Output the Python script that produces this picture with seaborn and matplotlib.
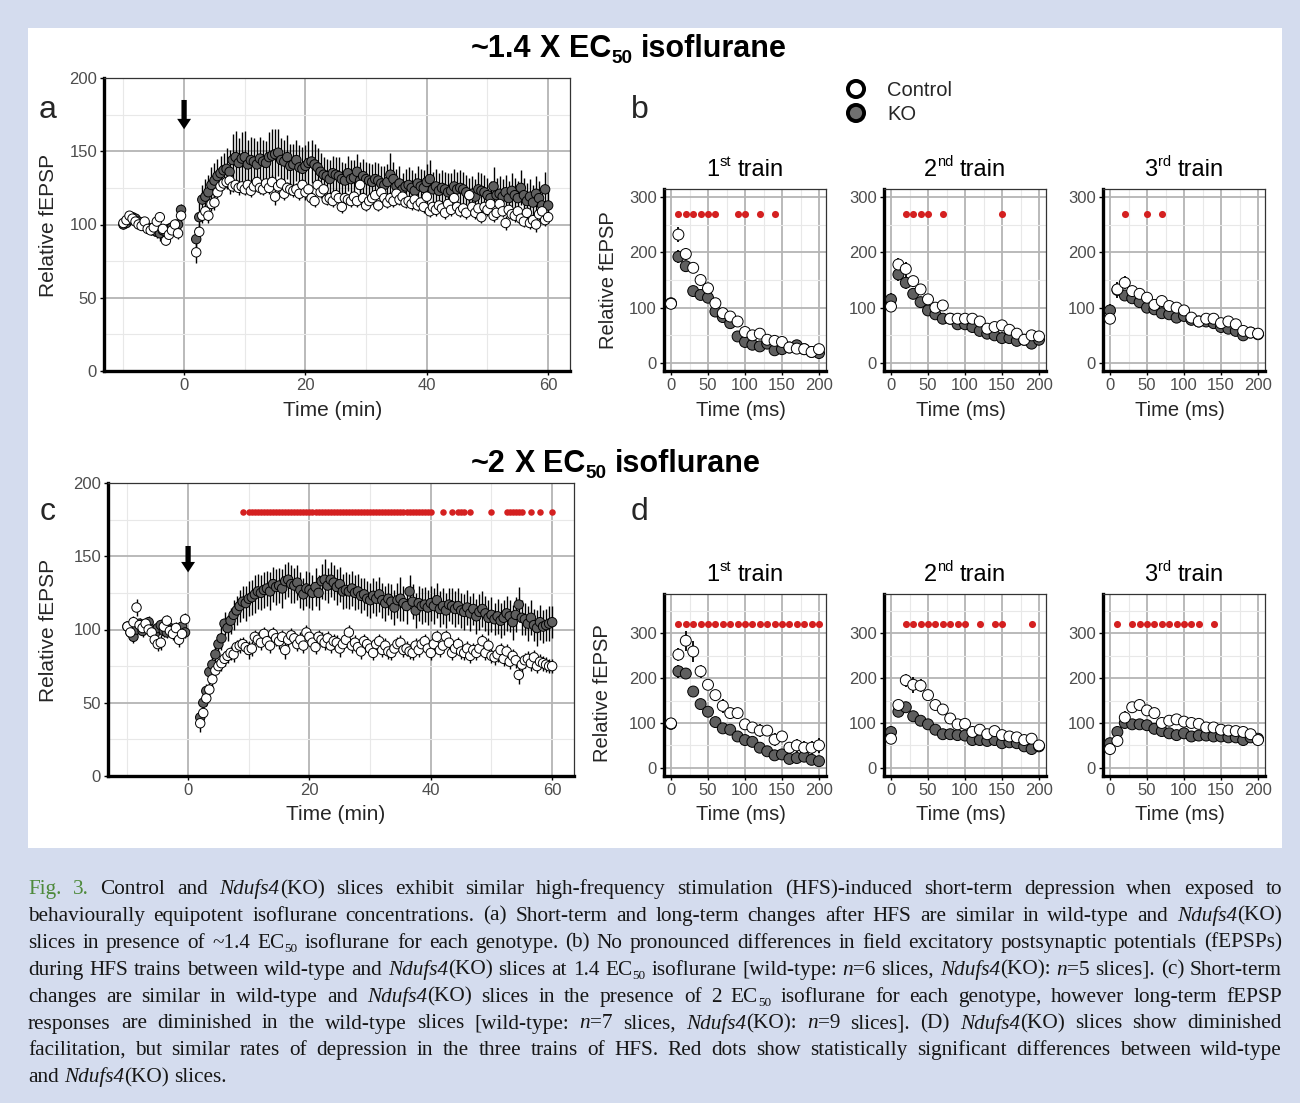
import re
import numpy as np
import pandas as pd
import seaborn as sns
import matplotlib
matplotlib.use('Agg')
import matplotlib.pyplot as plt
from matplotlib.patches import Rectangle

W, H = 1300, 1103
sns.set_style('white')
plt.rcParams['font.family'] = ['Liberation Sans', 'DejaVu Sans']

# ---------------- data ----------------
# panels a / c: baseline -10..-0.5 min, after HFS 2..60 min, one point per 30 s
t_base = np.arange(-10, 0, 0.5)
t_post = np.arange(2, 60.5, 0.5)
t_min = np.r_[t_base, t_post]

a_ko = [100, 101, 103, 105, 104, 102, 100, 99, 98, 97, 96, 95, 94, 96, 95, 97, 98, 99, 100, 110,
        90, 105, 117, 119, 122, 127, 130, 133, 135, 137,
        138, 136, 144, 146, 142, 145, 146, 141, 144, 143,
        141, 145, 143, 142, 146, 147, 148, 149, 144, 143,
        146, 140, 141, 144, 139, 138, 140, 142, 143, 141,
        139, 136, 134, 133, 131, 135, 134, 133, 131, 130,
        135, 131, 132, 136, 130, 133, 131, 130, 129, 131,
        130, 128, 127, 129, 134, 131, 126, 128, 124, 126,
        127, 125, 123, 128, 126, 125, 129, 131, 124, 126,
        123, 125, 124, 122, 123, 126, 124, 125, 124, 122,
        120, 121, 119, 124, 123, 122, 120, 118, 126, 120,
        121, 119, 122, 118, 123, 120, 118, 125, 120, 116,
        119, 115, 121, 118, 113, 124, 113]
a_ko_se = [3, 3, 3, 3, 3, 3, 3, 3, 4, 4, 4, 4, 5, 4, 4, 4, 4, 4, 4, 4,
           8, 10, 10, 12, 12, 12, 12, 12, 12, 12,
           14, 15, 18, 18, 17, 18, 18, 17, 16, 16,
           16, 15, 15, 15, 17, 18, 17, 16, 15, 15,
           15, 15, 14, 14, 15, 15, 14, 15, 15, 14,
           13, 13, 12, 12, 13, 12, 12, 13, 12, 12,
           12, 13, 12, 12, 13, 12, 12, 12, 12, 12,
           12, 12, 13, 12, 15, 12, 12, 12, 11, 12,
           12, 12, 12, 12, 12, 12, 12, 13, 12, 12,
           12, 12, 12, 13, 12, 12, 12, 12, 12, 12,
           12, 12, 12, 12, 12, 12, 12, 12, 13, 12,
           12, 12, 12, 12, 12, 12, 12, 12, 12, 12,
           12, 12, 12, 12, 12, 12, 12]
a_ctl = [101, 103, 106, 104, 102, 100, 99, 102, 97, 96, 98, 102, 105, 97, 89, 93, 96, 100, 94, 106,
         81, 95, 106, 109, 106, 114, 115, 122, 126, 128,
         129, 130, 126, 127, 125, 126, 124, 127, 123, 126,
         129, 125, 124, 128, 125, 129, 119, 126, 128, 121,
         125, 124, 123, 124, 121, 127, 122, 124, 118, 116,
         127, 122, 124, 117, 118, 116, 120, 118, 112, 118,
         117, 116, 119, 116, 127, 118, 113, 116, 118, 120,
         113, 122, 118, 115, 118, 116, 121, 117, 119, 115,
         116, 114, 117, 113, 115, 112, 119, 109, 112, 110,
         113, 111, 108, 114, 110, 118, 112, 109, 111, 108,
         120, 112, 108, 111, 105, 112, 110, 114, 106, 108,
         114, 109, 101, 110, 107, 106, 109, 104, 102, 108,
         101, 103, 100, 107, 109, 103, 105]
a_ctl_se = [3, 3, 3, 3, 3, 3, 3, 3, 3, 3, 3, 3, 3, 3, 3, 4, 4, 4, 4, 4,
            7, 6, 5, 5, 5, 5, 5, 4, 4, 4,
            4, 4, 4, 4, 5, 4, 4, 4, 4, 4,
            4, 4, 4, 4, 4, 5, 6, 4, 4, 4,
            4, 4, 4, 4, 4, 4, 5, 4, 4, 4,
            5, 4, 4, 4, 4, 4, 4, 4, 4, 4,
            4, 4, 4, 4, 5, 4, 4, 4, 4, 4,
            4, 4, 4, 4, 4, 4, 4, 4, 4, 4,
            4, 4, 4, 4, 4, 4, 5, 4, 4, 4,
            4, 4, 4, 4, 4, 5, 4, 4, 4, 4,
            5, 4, 4, 4, 4, 4, 4, 4, 4, 4,
            4, 4, 5, 4, 4, 4, 4, 4, 4, 4,
            4, 4, 5, 4, 4, 4, 4]

c_ko = [102, 98, 95, 100, 104, 99, 103, 105, 100, 97, 101, 103, 99, 98, 101, 100, 97, 99, 102, 98,
        40, 50, 58, 71, 76, 83, 90, 94, 104, 101,
        106, 110, 113, 116, 119, 118, 121, 122, 124, 126,
        125, 127, 128, 126, 131, 129, 130, 128, 133, 134,
        131, 130, 132, 127, 124, 128, 127, 125, 129, 125,
        133, 134, 130, 134, 132, 129, 131, 126, 127, 126,
        128, 125, 126, 123, 124, 121, 120, 123, 121, 124,
        120, 118, 121, 119, 115, 120, 121, 118, 116, 126,
        119, 113, 118, 116, 117, 115, 118, 116, 120, 114,
        116, 113, 117, 116, 114, 116, 113, 112, 115, 111,
        114, 109, 112, 114, 111, 108, 110, 107, 109, 106,
        108, 111, 109, 105, 110, 117, 108, 107, 104, 108,
        103, 101, 105, 102, 103, 104, 105]
c_ko_se = [4, 4, 4, 4, 4, 4, 4, 4, 4, 4, 4, 4, 4, 4, 4, 4, 4, 4, 4, 4,
           4, 5, 5, 6, 6, 7, 7, 8, 8, 9,
           9, 10, 10, 11, 11, 12, 12, 12, 13, 12,
           12, 12, 12, 13, 12, 12, 12, 13, 12, 12,
           13, 12, 12, 12, 11, 12, 12, 12, 13, 12,
           12, 14, 12, 12, 12, 12, 12, 12, 12, 12,
           12, 12, 12, 12, 11, 12, 12, 12, 12, 12,
           12, 12, 11, 12, 12, 12, 15, 12, 12, 11,
           12, 12, 12, 12, 12, 12, 12, 12, 12, 12,
           12, 12, 11, 12, 12, 12, 12, 12, 12, 12,
           11, 12, 12, 12, 12, 12, 12, 11, 12, 12,
           12, 12, 11, 12, 12, 12, 12, 11, 12, 12,
           11, 12, 12, 11, 11, 12, 11]
c_ctl = [102, 98, 105, 115, 103, 101, 104, 100, 98, 93, 90, 91, 102, 106, 99, 97, 101, 93, 97, 107,
         36, 43, 53, 59, 66, 72, 75, 77, 80, 82,
         84, 83, 88, 89, 90, 88, 86, 87, 95, 93,
         91, 97, 92, 89, 97, 94, 92, 95, 86, 93,
         96, 94, 90, 93, 89, 98, 95, 91, 88, 95,
         93, 91, 94, 89, 92, 91, 87, 90, 93, 98,
         89, 91, 88, 85, 92, 90, 87, 84, 90, 92,
         86, 89, 85, 84, 87, 90, 91, 86, 87, 85,
         84, 89, 86, 90, 92, 87, 84, 90, 95, 86,
         89, 95, 91, 84, 87, 90, 85, 84, 87, 82,
         86, 84, 87, 92, 84, 89, 82, 81, 83, 86,
         80, 85, 78, 82, 79, 69, 76, 79, 80, 77,
         81, 75, 78, 77, 76, 75, 75]
c_ctl_se = [4, 4, 4, 6, 4, 4, 4, 4, 4, 5, 5, 5, 4, 4, 4, 4, 4, 5, 4, 4,
            6, 5, 5, 5, 5, 5, 5, 5, 5, 5,
            5, 5, 5, 5, 5, 5, 6, 5, 5, 5,
            5, 5, 5, 5, 5, 5, 5, 5, 6, 5,
            5, 5, 5, 5, 5, 5, 5, 5, 5, 5,
            5, 5, 5, 5, 5, 5, 6, 5, 5, 5,
            5, 5, 5, 5, 5, 5, 5, 5, 5, 5,
            5, 5, 5, 5, 5, 5, 5, 5, 5, 5,
            5, 5, 5, 5, 5, 5, 5, 5, 5, 5,
            5, 5, 5, 5, 5, 5, 5, 5, 5, 5,
            5, 5, 5, 5, 5, 5, 5, 5, 5, 5,
            5, 5, 5, 5, 5, 6, 5, 5, 5, 5,
            5, 5, 5, 5, 5, 5, 5]

# significant time points in panel c
c_sig = ([9.0] + list(np.arange(10, 40.5, 0.5)) +
         [42, 43.5, 44.5, 45, 45.5, 46.5, 50, 52.5, 53, 53.5, 54, 54.5, 55, 56.5, 58, 60])
C_SIG_Y = 180

# panels b / d: 21 pulses of a train, every 10 ms
t_ms = [0, 10, 20, 30, 40, 50, 60, 70, 80, 90, 100, 110, 120, 130, 140, 150, 160, 170, 180, 190, 200]

b_ctl = [[107, 232, 197, 172, 150, 135, 108, 90, 84, 75, 56, 50, 53, 42, 40, 38, 28, 26, 25, 20, 25],
         [102, 178, 170, 148, 133, 115, 100, 104, 80, 80, 80, 80, 75, 62, 65, 68, 60, 53, 42, 50, 48],
         [80, 133, 145, 130, 125, 118, 105, 112, 103, 100, 95, 82, 75, 80, 80, 72, 75, 70, 58, 55, 53]]
b_ko = [[108, 192, 175, 130, 123, 118, 93, 83, 72, 48, 38, 33, 30, 35, 23, 25, 28, 32, 25, 20, 18],
        [115, 160, 145, 125, 110, 95, 88, 80, 80, 70, 70, 65, 58, 53, 50, 45, 45, 40, 42, 35, 42],
        [95, 132, 122, 117, 110, 100, 97, 90, 88, 82, 85, 78, 75, 75, 72, 65, 62, 58, 50, 55, 52]]
b_ctl_se = [[5, 13, 10, 8, 6, 8, 6, 5, 5, 5, 8, 6, 8, 6, 6, 5, 5, 5, 5, 5, 8],
            [6, 12, 12, 10, 8, 8, 8, 6, 6, 6, 8, 6, 8, 6, 8, 8, 6, 6, 6, 6, 6],
            [6, 12, 12, 10, 8, 8, 8, 8, 6, 6, 6, 6, 6, 6, 8, 6, 6, 6, 6, 6, 5]]
b_ko_se = [[6, 12, 10, 6, 6, 6, 6, 5, 5, 5, 6, 6, 6, 5, 6, 5, 5, 6, 5, 5, 5],
           [12, 12, 12, 8, 6, 6, 6, 6, 5, 5, 6, 5, 5, 5, 5, 5, 5, 5, 5, 6, 5],
           [12, 15, 8, 6, 6, 6, 6, 5, 5, 5, 5, 5, 5, 5, 5, 5, 5, 5, 5, 5, 5]]
b_sig = [[10, 20, 30, 40, 50, 60, 90, 100, 120, 140],
         [20, 30, 40, 50, 70, 150],
         [20, 50, 70]]
B_SIG_Y = 270

d_ctl = [[99, 252, 283, 259, 215, 185, 162, 138, 122, 122, 97, 90, 83, 83, 63, 70, 45, 50, 45, 45, 50],
         [65, 140, 195, 185, 183, 162, 140, 130, 110, 97, 98, 80, 85, 75, 82, 73, 70, 68, 62, 65, 50],
         [42, 60, 112, 135, 140, 128, 122, 100, 105, 108, 103, 100, 98, 90, 90, 85, 83, 82, 80, 75, 62]]
d_ko = [[98, 215, 210, 170, 142, 125, 102, 88, 85, 70, 62, 58, 45, 37, 28, 30, 20, 22, 25, 18, 15],
        [80, 125, 135, 115, 105, 97, 85, 75, 75, 73, 72, 62, 62, 60, 62, 55, 57, 55, 48, 42, 48],
        [55, 80, 100, 97, 97, 95, 87, 82, 77, 73, 77, 70, 72, 72, 70, 70, 68, 68, 62, 68, 65]]
d_ctl_se = [[8, 15, 22, 24, 15, 12, 10, 15, 10, 10, 12, 12, 15, 12, 15, 12, 12, 14, 15, 15, 16],
            [10, 12, 15, 18, 15, 10, 10, 12, 10, 8, 10, 8, 10, 8, 10, 8, 8, 8, 10, 10, 8],
            [10, 12, 15, 12, 10, 12, 10, 10, 10, 10, 8, 8, 8, 8, 8, 8, 8, 8, 8, 8, 6]]
d_ko_se = [[6, 15, 12, 10, 8, 8, 8, 8, 6, 6, 6, 6, 6, 6, 6, 6, 6, 6, 6, 6, 6],
           [10, 10, 10, 8, 6, 6, 6, 6, 5, 5, 5, 5, 5, 5, 5, 5, 5, 5, 5, 5, 5],
           [10, 8, 6, 6, 5, 5, 5, 5, 5, 5, 5, 5, 5, 5, 5, 5, 5, 5, 5, 5, 5]]
d_sig = [[10, 20, 30, 40, 50, 60, 70, 80, 90, 100, 110, 120, 130, 140, 150, 160, 170, 180, 190, 200],
         [20, 30, 40, 50, 60, 70, 80, 90, 100, 120, 140, 150, 190],
         [10, 30, 40, 50, 60, 70, 80, 90, 100, 110, 120, 140]]
D_SIG_Y = 320

train_titles = ['1^st^ train', '2^nd^ train', '3^rd^ train']
caption = [
    "#Fig. 3.# Control and *Ndufs4*(KO) slices exhibit similar high-frequency stimulation (HFS)-induced short-term depression when exposed to",
    "behaviourally equipotent isoflurane concentrations. (a) Short-term and long-term changes after HFS are similar in wild-type and *Ndufs4*(KO)",
    "slices in presence of ~1.4 EC_50_ isoflurane for each genotype. (b) No pronounced differences in field excitatory postsynaptic potentials (fEPSPs)",
    "during HFS trains between wild-type and *Ndufs4*(KO) slices at 1.4 EC_50_ isoflurane [wild-type: *n*=6 slices, *Ndufs4*(KO): *n*=5 slices]. (c) Short-term",
    "changes are similar in wild-type and *Ndufs4*(KO) slices in the presence of 2 EC_50_ isoflurane for each genotype, however long-term fEPSP",
    "responses are diminished in the wild-type slices [wild-type: *n*=7 slices, *Ndufs4*(KO): *n*=9 slices]. (D) *Ndufs4*(KO) slices show diminished",
    "facilitation, but similar rates of depression in the three trains of HFS. Red dots show statistically significant differences between wild-type",
    "and *Ndufs4*(KO) slices.",
]

KO_COL = '#5f5f5f'
RED = '#d42020'
GREEN = '#4e8a3c'
BG = '#d4dcee'
pal = {'KO': KO_COL, 'Control': 'white'}

# ---------------- figure ----------------
fig = plt.figure(figsize=(13, 11.03), dpi=100)
fig.patch.set_facecolor(BG)
fig.add_artist(Rectangle((28 / W, 1 - 848 / H), (1282 - 28) / W, (848 - 28) / H,
                         transform=fig.transFigure, facecolor='white', edgecolor='none', zorder=-1))


def box(x0, x1, y0, y1):
    return [x0 / W, 1 - y1 / H, (x1 - x0) / W, (y1 - y0) / H]


def style(ax, xmaj, xmin, ymaj, ymin):
    ax.set_xticks(xmaj)
    ax.set_xticks(xmin, minor=True)
    ax.set_yticks(ymaj)
    ax.set_yticks(ymin, minor=True)
    ax.grid(True, which='major', color='#b4b4b4', lw=1.3)
    ax.grid(True, which='minor', color='#e8e8e8', lw=0.8)
    ax.set_axisbelow(True)
    for s in ['top', 'right']:
        ax.spines[s].set_color('#333333')
        ax.spines[s].set_linewidth(0.9)
    for s in ['left', 'bottom']:
        ax.spines[s].set_color('black')
        ax.spines[s].set_linewidth(2.4)
    ax.tick_params(which='major', length=3, width=1, color='black', labelsize=12,
                   labelcolor='#4d4d4d', pad=2, direction='out', left=True, bottom=True)
    ax.tick_params(which='minor', length=0)
    ax.set_xlabel('')
    ax.set_ylabel('')


def points(ax, t, ko, ko_se, ctl, ctl_se, size, elw):
    df = pd.DataFrame({'t': np.r_[t, t], 'v': np.r_[ko, ctl], 'se': np.r_[ko_se, ctl_se],
                       'g': ['KO'] * len(t) + ['Control'] * len(t)})
    ax.errorbar(df['t'], df['v'], yerr=df['se'], fmt='none', ecolor='black', elinewidth=elw, zorder=2)
    sns.scatterplot(data=df, x='t', y='v', hue='g', palette=pal, s=size, edgecolor='black',
                    linewidth=0.7, legend=False, ax=ax, zorder=3)


def sig(ax, xs, y, size):
    sns.scatterplot(x=xs, y=[y] * len(xs), color=RED, s=size, linewidth=0, ax=ax, zorder=4)


ARROW = dict(arrowstyle='simple,head_length=0.75,head_width=1.0,tail_width=0.38',
             color='black', lw=0, shrinkA=0, shrinkB=0)

# panel a
ax_a = fig.add_axes(box(104, 570, 78, 371))
points(ax_a, t_min, a_ko, a_ko_se, a_ctl, a_ctl_se, 46, 1.0)
ax_a.annotate('', xy=(0, 165), xytext=(0, 185), arrowprops=ARROW)
ax_a.set_xlim(-13.2, 63.6)
ax_a.set_ylim(0, 200)
style(ax_a, [0, 20, 40, 60], [-10, 10, 30, 50], [0, 50, 100, 150, 200], [25, 75, 125, 175])

# panel c
ax_c = fig.add_axes(box(108, 574, 483, 776))
points(ax_c, t_min, c_ko, c_ko_se, c_ctl, c_ctl_se, 46, 1.0)
sig(ax_c, c_sig, C_SIG_Y, 22)
ax_c.annotate('', xy=(0, 139), xytext=(0, 157), arrowprops=ARROW)
ax_c.set_xlim(-13.2, 63.6)
ax_c.set_ylim(0, 200)
style(ax_c, [0, 20, 40, 60], [-10, 10, 30, 50], [0, 50, 100, 150, 200], [25, 75, 125, 175])

# panels b and d
lefts = [663.6, 883.6, 1102.6]
for i in range(3):
    axb = fig.add_axes(box(lefts[i], lefts[i] + 162.8, 188.7, 371.3))
    points(axb, t_ms, b_ko[i], b_ko_se[i], b_ctl[i], b_ctl_se[i], 62, 1.3)
    sig(axb, b_sig[i], B_SIG_Y, 26)
    axb.set_xlim(-10, 210)
    axb.set_ylim(-15, 315)
    style(axb, [0, 50, 100, 150, 200], [25, 75, 125, 175], [0, 100, 200, 300], [50, 150, 250])

    axd = fig.add_axes(box(lefts[i], lefts[i] + 162.8, 594, 776))
    points(axd, t_ms, d_ko[i], d_ko_se[i], d_ctl[i], d_ctl_se[i], 62, 1.3)
    sig(axd, d_sig[i], D_SIG_Y, 26)
    axd.set_xlim(-10, 210)
    axd.set_ylim(-18, 387)
    style(axd, [0, 50, 100, 150, 200], [25, 75, 125, 175], [0, 100, 200, 300], [50, 150, 250, 350])

# overlay in pixel coordinates for the texts
ax_o = fig.add_axes([0, 0, 1, 1])
ax_o.set_zorder(10)
ax_o.set_xlim(0, W)
ax_o.set_ylim(H, 0)
ax_o.axis('off')

PARTS = re.compile(r'(\*[^*]+\*|_[^_]+_|\^[^^]+\^|#[^#]+#)')
FLAG = {'*': 'i', '_': 's', '^': 'p', '#': 'g'}


def split_words(markup, base=''):
    words = [[]]
    for part in PARTS.split(markup):
        if not part:
            continue
        flags = base
        if len(part) > 1 and part[0] in FLAG and part[-1] == part[0]:
            flags += FLAG[part[0]]
            part = part[1:-1]
        for k, chunk in enumerate(part.split(' ')):
            if k:
                words.append([])
            if chunk:
                words[-1].append((chunk, flags))
    return [w for w in words if w]


def text_line(x, y, markup, size, family, base='', color='black', align='left', width=None, measure=False):
    rend = fig.canvas.get_renderer()
    em = size * 100 / 72
    words = []
    for w in split_words(markup, base):
        pieces = []
        for s, f in w:
            small = 's' in f or 'p' in f
            t = ax_o.text(0, 0, s, fontsize=size * (0.62 if small else 1), family=family,
                          color=GREEN if 'g' in f else color,
                          fontweight='bold' if 'b' in f else 'normal',
                          fontstyle='italic' if 'i' in f else 'normal', va='baseline', ha='left')
            dy = 0.2 * em if 's' in f else (-0.42 * em if 'p' in f else 0)
            pieces.append((t, dy, t.get_window_extent(rend).width))
        words.append(pieces)
    p1 = ax_o.text(0, 0, 'n n', fontsize=size, family=family, fontweight='bold' if 'b' in base else 'normal')
    p2 = ax_o.text(0, 0, 'nn', fontsize=size, family=family, fontweight='bold' if 'b' in base else 'normal')
    space = p1.get_window_extent(rend).width - p2.get_window_extent(rend).width
    p1.remove()
    p2.remove()
    total = sum(p[2] for w in words for p in w)
    n = len(words)
    natural = total + space * (n - 1)
    if measure:
        for w in words:
            for p in w:
                p[0].remove()
        return natural
    gap = (width - total) / (n - 1) if align == 'justify' else space
    line_w = total + gap * (n - 1)
    cur = x - line_w / 2 if align == 'center' else x
    for w in words:
        for t, dy, wd in w:
            t.set_position((cur, y + dy))
            cur += wd
        cur += gap
    return line_w


SANS = ['Liberation Sans', 'DejaVu Sans']

# headings
text_line(471, 57, '~1.4 X EC_50_ isoflurane', 22, SANS, base='b')
text_line(471, 472, '~2 X EC_50_ isoflurane', 22, SANS, base='b')
for i in range(3):
    cx = lefts[i] + 81.4
    text_line(cx, 176, train_titles[i], 17, SANS, align='center')
    text_line(cx, 581, train_titles[i], 17, SANS, align='center')
    ax_o.text(cx - 4, 410, 'Time (ms)', fontsize=14.5, ha='center', va='center')
    ax_o.text(cx - 4, 815, 'Time (ms)', fontsize=14.5, ha='center', va='center')

# panel letters
for lx, ly, lt in [(48, 118, 'a'), (640, 118, 'b'), (48, 520, 'c'), (640, 520, 'd')]:
    ax_o.text(lx, ly, lt, fontsize=23, ha='center', va='baseline')

# axis titles
ax_o.text(48, 225, 'Relative fEPSP', fontsize=15, rotation=90, ha='center', va='center')
ax_o.text(48, 630, 'Relative fEPSP', fontsize=15, rotation=90, ha='center', va='center')
ax_o.text(609, 280, 'Relative fEPSP', fontsize=14.5, rotation=90, ha='center', va='center')
ax_o.text(603, 693, 'Relative fEPSP', fontsize=14.5, rotation=90, ha='center', va='center')
ax_o.text(333, 410, 'Time (min)', fontsize=15, ha='center', va='center')
ax_o.text(336, 815, 'Time (min)', fontsize=15, ha='center', va='center')

# legend
ax_o.scatter([856, 856], [89, 113], s=135, c=['white', '#707070'], edgecolors='black', linewidths=2.8, zorder=5)
ax_o.text(887, 91, 'Control', fontsize=14.5, va='center')
ax_o.text(887, 114, 'KO', fontsize=14.5, va='center')

# caption, justified
SERIF = ['Liberation Serif', 'DejaVu Serif']
CAP_W = 1254
base_size = 16
widest = max(text_line(0, 0, ln, base_size, SERIF, measure=True) for ln in caption[:-1])
cap_size = base_size * min(1.0, (CAP_W - 6) / widest)
for k, ln in enumerate(caption):
    yb = 894 + k * 26.9
    if k < len(caption) - 1:
        text_line(28, yb, ln, cap_size, SERIF, color='#161616', align='justify', width=CAP_W)
    else:
        text_line(28, yb, ln, cap_size, SERIF, color='#161616')

ax_o.set_xlim(0, W)
ax_o.set_ylim(H, 0)
fig.savefig('out.png', dpi=100, facecolor=BG)
